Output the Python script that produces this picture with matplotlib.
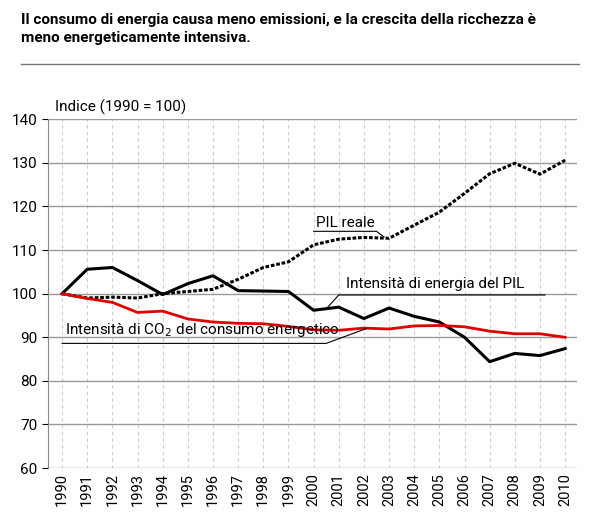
import matplotlib
matplotlib.use("Agg")
import matplotlib.pyplot as plt

anni = list(range(1990, 2011))
pil = [100, 99, 99.2, 99, 100, 100.5, 101, 103.3, 106, 107.3, 111.2, 112.5,
       112.9, 112.7, 115.7, 118.7, 123, 127.5, 129.9, 127.4, 130.6]
energia = [100, 105.6, 106, 103, 99.8, 102.3, 104.1, 100.7, 100.6, 100.5, 96.2,
           96.9, 94.3, 96.7, 94.8, 93.5, 90, 84.4, 86.3, 85.8, 87.4]
co2 = [100, 98.9, 98, 95.7, 96, 94.2, 93.5, 93.2, 93.1, 92.5, 91.7, 91.6,
       92.1, 91.9, 92.6, 92.7, 92.4, 91.4, 90.8, 90.8, 90]

plt.rcParams['font.family'] = ['Roboto', 'DejaVu Sans']
fig = plt.figure(figsize=(6, 5.23), dpi=100)
ax = fig.add_axes([0.08, 0.105, 0.882, 0.667])

ax.plot(anni, pil, color='black', lw=2.2, ls=(0, (1.2, 0.6)))
ax.plot(anni, energia, color='black', lw=2.2)
ax.plot(anni, co2, color='#e00000', lw=2)

ax.set_xlim(1989.44, 2010.48)
ax.set_ylim(60, 140)
ax.set_yticks(range(60, 141, 10))
ax.set_xticks(anni)
ax.set_xticklabels([str(a) for a in anni], rotation=90, fontsize=10.5)
ax.tick_params(axis='y', labelsize=11, length=4)
ax.tick_params(axis='x', length=0)
ax.grid(axis='y', color='#999999', lw=1)
ax.grid(axis='x', color='#cccccc', lw=0.8, ls=(0, (3, 3)))
ax.set_axisbelow(True)
for s in ['top', 'right', 'bottom']:
    ax.spines[s].set_visible(False)
ax.spines['left'].set_color('#888888')

ax.text(1989.7, 141, 'Indice (1990 = 100)', fontsize=11, va='bottom')

# etichette con linee di richiamo
ax.text(2000.1, 114.5, 'PIL reale', fontsize=11, va='bottom')
ax.plot([2000.0, 2002.5, 2002.8], [114.3, 114.3, 113.0], color='black', lw=0.8)
ax.text(2001.3, 100.6, 'Intensità di energia del PIL', fontsize=11, va='bottom')
ax.plot([2000.5, 2001.0, 2009.2], [96.5, 99.7, 99.7], color='black', lw=0.8)
ax.text(1990.1, 89.6, 'Intensità di CO$_2$ del consumo energetico', fontsize=11, va='bottom')
ax.plot([1990.0, 2000.5, 2002.1], [88.6, 88.6, 92.0], color='black', lw=0.8)

fig.text(0.035, 0.975, 'Il consumo di energia causa meno emissioni, e la crescita della ricchezza è\n'
         'meno energeticamente intensiva.', fontsize=11, va='top', linespacing=1.4,
         fontweight='bold')
fig.add_artist(plt.Line2D([0.035, 0.965], [0.878, 0.878], color='#777777', lw=1))

fig.savefig('out.png', dpi=100)
